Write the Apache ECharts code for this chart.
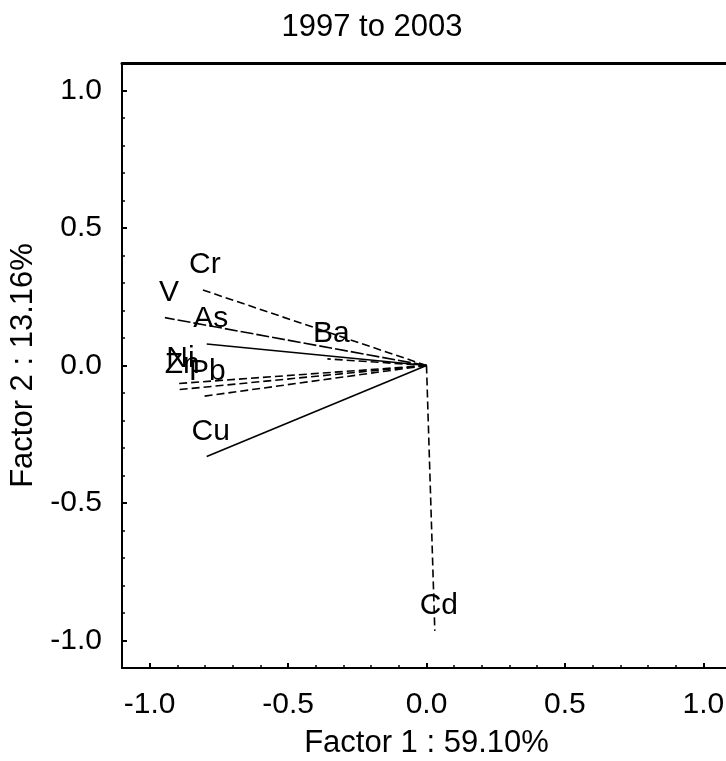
<!DOCTYPE html>
<html>
<head>
<meta charset="utf-8">
<script src="https://cdn.jsdelivr.net/npm/echarts@6/dist/echarts.min.js"></script>
<style>
  html, body { margin: 0; padding: 0; background: #fff; }
  #chart { width: 726px; height: 761px; }
</style>
</head>
<body>
<div id="chart"></div>
<script>
// Factor loadings (Factor 1, Factor 2) of each element
const variables = ['Cr', 'V', 'As', 'Ba', 'Ni', 'Zn', 'Pb', 'Cu', 'Cd'];
const factor1 = [-0.815, -0.945, -0.794, -0.358, -0.903, -0.897, -0.806, -0.794, 0.030];
const factor2 = [0.277, 0.174, 0.078, 0.024, -0.066, -0.088, -0.112, -0.331, -0.965];
const dashed = [true, true, false, true, true, true, true, false, true];

// Axis tick labels
const majorTicks = [-1.0, -0.5, 0.0, 0.5, 1.0];
const minorTicks = [];
for (let i = -10; i <= 10; i++) minorTicks.push(i / 10);

const FONT = '"Liberation Sans", Arial, sans-serif';
const INK = '#000';

const fmt = v => v.toFixed(1);

function valueAxis(extra) {
  return Object.assign({
    type: 'value', min: -1.1, max: 1.1,
    splitLine: { show: false },
    axisLine: { show: true, onZero: false, lineStyle: { color: INK, width: 2 } },
    axisTick: { show: true, inside: true, length: 5, customValues: majorTicks, lineStyle: { color: INK, width: 2 } },
    axisLabel: { show: true, customValues: majorTicks, formatter: fmt, color: INK, fontFamily: FONT, fontSize: 30 }
  }, extra);
}
function minorAxis(extra) {
  return Object.assign({
    type: 'value', min: -1.1, max: 1.1,
    splitLine: { show: false },
    axisLine: { show: false, onZero: false },
    axisTick: { show: true, inside: true, length: 3, customValues: minorTicks, lineStyle: { color: INK, width: 1.5 } },
    axisLabel: { show: false }
  }, extra);
}

const series = [];
variables.forEach((name, i) => {
  series.push({
    type: 'line',
    name: name,
    xAxisIndex: 0, yAxisIndex: 0,
    data: [[0, 0], [factor1[i], factor2[i]]],
    symbol: 'none',
    silent: true,
    lineStyle: {
      color: '#000', width: 1.6,
      type: dashed[i] ? (name === 'V' ? [13, 3] : [8, 4]) : 'solid'
    },
    z: 3
  });
});
// Element names at the tip of each vector
series.push({
  type: 'scatter',
  xAxisIndex: 0, yAxisIndex: 0,
  data: variables.map((name, i) => ({ name: name, value: [factor1[i], factor2[i]] })),
  symbolSize: 0,
  silent: true,
  itemStyle: { color: '#000' },
  label: {
    show: true, position: [0, 0], formatter: p => p.name,
    align: 'center', verticalAlign: 'bottom', offset: [4, -10],
    color: '#000', opacity: 1, fontFamily: FONT, fontSize: 30
  },
  z: 4
});

const chart = echarts.init(document.getElementById('chart'), null, { renderer: 'canvas' });
chart.setOption({
  backgroundColor: '#fff',
  animation: false,
  title: {
    text: '1997 to 2003', left: 367, top: 7, textAlign: 'center',
    textStyle: { fontFamily: FONT, fontSize: 31, fontWeight: 'normal', color: INK }
  },
  grid: { left: 122, top: 63, right: -5, bottom: 93, containLabel: false, outerBoundsMode: 'none' },
  xAxis: [
    valueAxis({ position: 'bottom', name: 'Factor 1 : 59.10%', nameLocation: 'middle', nameGap: 60,
      nameTextStyle: { fontFamily: FONT, fontSize: 31, color: INK },
      axisLabel: { show: true, customValues: majorTicks, formatter: fmt, color: INK, fontFamily: FONT, fontSize: 30, margin: 22 } }),
    minorAxis({ position: 'bottom' }),
    { type: 'value', min: -1.1, max: 1.1, position: 'top', splitLine: { show: false },
      axisLine: { show: true, onZero: false, lineStyle: { color: INK, width: 3 } },
      axisTick: { show: false }, axisLabel: { show: false } }
  ],
  yAxis: [
    valueAxis({ position: 'left', name: 'Factor 2 : 13.16%', nameLocation: 'middle', nameGap: 80,
      nameTextStyle: { fontFamily: FONT, fontSize: 31, color: INK },
      axisLabel: { show: true, customValues: majorTicks, formatter: fmt, color: INK, fontFamily: FONT, fontSize: 30, margin: 20 } }),
    minorAxis({ position: 'left' })
  ],
  series: series
});
</script>
</body>
</html>
